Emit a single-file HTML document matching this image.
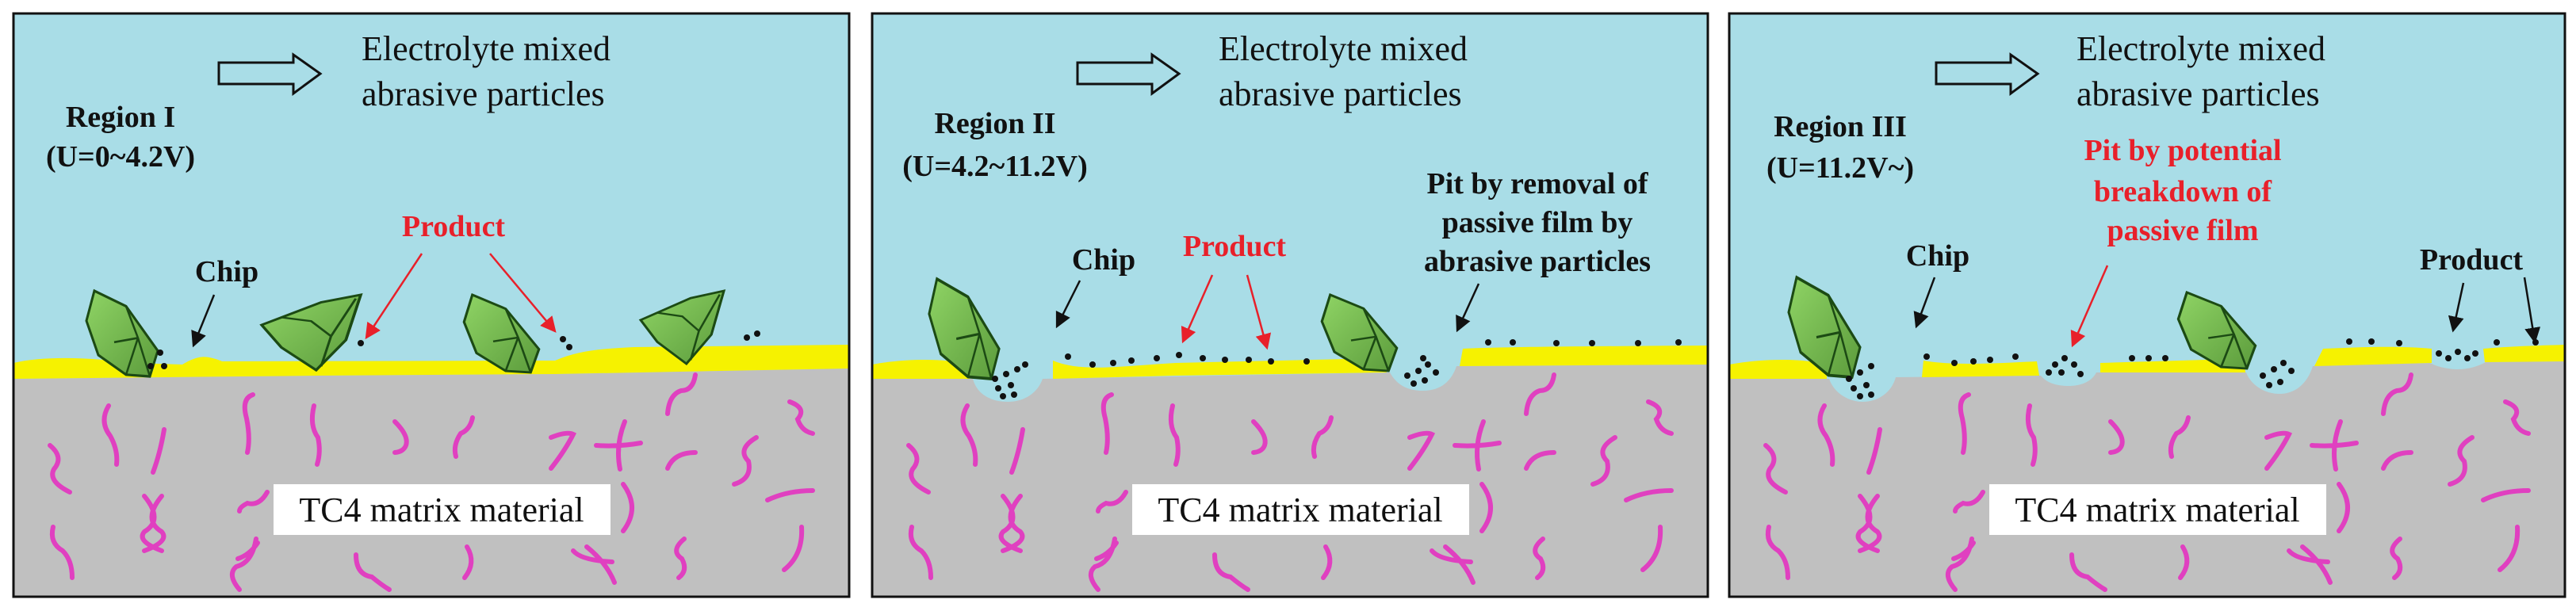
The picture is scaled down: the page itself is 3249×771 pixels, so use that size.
<!DOCTYPE html>
<html><head><meta charset="utf-8"><style>
html,body{margin:0;padding:0;background:#fff;}
svg{display:block;}
</style></head><body>
<svg width="3249" height="771" viewBox="0 0 3249 771" xmlns="http://www.w3.org/2000/svg" font-family="'Liberation Serif', 'DejaVu Serif', serif">
<defs>
<linearGradient id="gg" x1="0" y1="0" x2="1" y2="1"><stop offset="0" stop-color="#8fd465"/><stop offset="1" stop-color="#5c9c3c"/></linearGradient>
<marker id="ab" markerWidth="8" markerHeight="8" refX="7" refY="4" orient="auto" markerUnits="strokeWidth"><path d="M0,0 L8,4 L0,8 Z" fill="#111"/></marker>
<marker id="ar" markerWidth="8" markerHeight="8" refX="7" refY="4" orient="auto" markerUnits="strokeWidth"><path d="M0,0 L8,4 L0,8 Z" fill="#e8202a"/></marker>
<g id="chip"><path d="M15,0 L55,18 L95,70 L85,100 L55,98 L20,75 L5,35 Z" fill="url(#gg)" stroke="#1c4a14" stroke-width="3"/><path d="M55,18 L70,55 L40,60 M70,55 L85,100 M70,55 L55,98" fill="none" stroke="#1c4a14" stroke-width="2.5"/></g>
<g id="chip2"><path d="M0,40 L60,10 L100,0 L85,60 L55,100 L20,70 Z" fill="url(#gg)" stroke="#1c4a14" stroke-width="3"/><path d="M20,30 L50,35 L70,55 L95,5 M70,55 L60,95" fill="none" stroke="#1c4a14" stroke-width="2.5"/></g>
<g id="sq" fill="none" stroke="#e040c0" stroke-width="6" stroke-linecap="round">
<path d="M63,562 q18,15 5,30 q-8,15 20,29"/>
<path d="M137,512 q-12,20 2,38 q10,18 8,36"/>
<path d="M207,542 q-5,30 -14,54"/>
<path d="M182,626 q25,30 0,45 q-10,12 22,24 M204,626 q-25,30 0,45 q10,12 -22,24"/>
<path d="M67,665 q-5,20 12,30 q12,12 12,34"/>
<path d="M319,498 q-15,5 -8,30 q5,25 1,43"/>
<path d="M396,512 q-6,25 5,40 q4,18 -1,34"/>
<path d="M498,532 q18,18 14,30 q-3,8 -14,9"/>
<path d="M596,527 q-3,15 -15,20 q-10,15 -6,29"/>
<path d="M695,552 q20,-8 28,-4 q-10,20 -28,43"/>
<path d="M752,562 q28,2 56,-3 M788,532 q-12,30 -6,60"/>
<path d="M877,473 q-3,20 -18,20 q-15,5 -17,29"/>
<path d="M842,591 q8,-20 35,-20"/>
<path d="M996,507 q22,8 10,22 q5,15 19,18"/>
<path d="M954,552 q-25,15 -10,30 q5,22 -18,29"/>
<path d="M968,631 q25,-12 57,-12"/>
<path d="M786,611 q22,30 0,59"/>
<path d="M1011,665 q2,35 -22,54"/>
<path d="M863,680 q-18,15 -3,25 q8,15 -4,24"/>
<path d="M723,695 q10,12 49,14 M740,690 q25,20 35,45"/>
<path d="M589,690 q12,20 -3,39"/>
<path d="M449,700 q0,25 20,28 q12,10 22,16"/>
<path d="M323,680 q-5,30 -25,35 q-12,10 4,29 M300,705 q15,-5 25,-20"/>
<path d="M337,621 q-10,18 -25,14 q-10,5 -10,10"/>
</g>
</defs>

<!-- ========== PANEL 1 ========== -->
<g>
<rect x="17" y="17" width="1054" height="736" fill="#a9dde7"/>
<path d="M17,478 L400,474 L700,472 L1071,465 L1071,753 L17,753 Z" fill="#c0c0c0"/>
<path d="M17,478 L17,458 C60,448 120,452 170,458 L230,460 C250,448 260,448 280,456 L700,455 C730,442 760,440 800,438 L1071,435 L1071,465 L700,472 L400,474 Z" fill="#f6f200"/>
<use href="#sq"/>
<rect x="345" y="611" width="425" height="64" fill="#fff"/>
<text font-size="44" fill="#111" x="557" y="658" text-anchor="middle">TC4 matrix material</text>
<use href="#chip" transform="translate(104,367) scale(1.0,1.08)"/>
<use href="#chip2" transform="translate(330,372) scale(1.25,0.95)"/>
<use href="#chip" transform="translate(580,372) scale(1.05,0.98)"/>
<use href="#chip2" transform="translate(808,367) scale(1.05,0.92)"/>
<g fill="#111"><circle cx="202" cy="445" r="4"/><circle cx="190" cy="462" r="4"/><circle cx="207" cy="462" r="4"/><circle cx="455" cy="433" r="4"/><circle cx="710" cy="428" r="4"/><circle cx="718" cy="438" r="4"/><circle cx="942" cy="426" r="4"/><circle cx="955" cy="421" r="4"/></g>
<path d="M276,79 L370,79 L370,69 L404,93 L370,118 L370,106 L276,106 Z" fill="none" stroke="#111" stroke-width="3"/>
<text font-size="44" fill="#111" x="456" y="76">Electrolyte mixed</text>
<text font-size="44" fill="#111" x="456" y="133">abrasive particles</text>
<text font-size="38" font-weight="bold" fill="#111" x="152" y="160" text-anchor="middle">Region I</text>
<text font-size="38" font-weight="bold" fill="#111" x="152" y="210" text-anchor="middle">(U=0~4.2V)</text>
<text font-size="38" font-weight="bold" fill="#111" x="286" y="355" text-anchor="middle">Chip</text>
<line x1="270" y1="372" x2="244" y2="436" stroke="#111" stroke-width="2.5" marker-end="url(#ab)"/>
<text font-size="38" font-weight="bold" fill="#e8202a" x="572" y="298" text-anchor="middle">Product</text>
<line x1="532" y1="320" x2="462" y2="426" stroke="#e8202a" stroke-width="2.5" marker-end="url(#ar)"/>
<line x1="618" y1="320" x2="700" y2="418" stroke="#e8202a" stroke-width="2.5" marker-end="url(#ar)"/>
<rect x="17" y="17" width="1054" height="736" fill="none" stroke="#111" stroke-width="3"/>
</g>

<!-- ========== PANEL 2 ========== -->
<g transform="translate(1083,0)">
<rect x="17" y="17" width="1054" height="736" fill="#a9dde7"/>
<path d="M17,478 L144,478 C150,500 170,507 188,507 C210,507 226,495 232,478 L670,470 C680,488 695,493 712,493 C735,493 748,480 754,462 L1071,460 L1071,753 L17,753 Z" fill="#c0c0c0"/>
<path d="M17,478 L17,460 C60,452 110,452 140,460 L140,478 Z" fill="#f6f200"/>
<path d="M245,478 L245,455 C280,470 330,462 400,458 L660,452 L666,470 L400,474 Z" fill="#f6f200"/>
<path d="M758,462 L762,440 C800,438 900,437 1071,436 L1071,460 Z" fill="#f6f200"/>
<use href="#sq"/>
<rect x="345" y="611" width="425" height="64" fill="#fff"/>
<text font-size="44" fill="#111" x="557" y="658" text-anchor="middle">TC4 matrix material</text>
<use href="#chip" transform="translate(84,352) scale(0.98,1.26)"/>
<use href="#chip" transform="translate(579,372) scale(1.05,0.96)"/>
<g fill="#111">
<circle cx="264" cy="450" r="4"/><circle cx="295" cy="460" r="4"/><circle cx="321" cy="458" r="4"/><circle cx="344" cy="455" r="4"/><circle cx="376" cy="452" r="4"/><circle cx="404" cy="448" r="4"/><circle cx="434" cy="452" r="4"/><circle cx="462" cy="454" r="4"/><circle cx="492" cy="454" r="4"/><circle cx="520" cy="456" r="4"/><circle cx="565" cy="456" r="4"/>
<circle cx="794" cy="432" r="4"/><circle cx="825" cy="432" r="4"/><circle cx="880" cy="433" r="4"/><circle cx="925" cy="433" r="4"/><circle cx="983" cy="433" r="4"/><circle cx="1034" cy="432" r="4"/>
<circle cx="172" cy="478" r="4"/><circle cx="186" cy="472" r="4"/><circle cx="200" cy="466" r="4"/><circle cx="176" cy="490" r="4"/><circle cx="192" cy="486" r="4"/><circle cx="182" cy="500" r="4"/><circle cx="196" cy="498" r="4"/><circle cx="210" cy="460" r="4"/>
<circle cx="692" cy="474" r="4"/><circle cx="706" cy="468" r="4"/><circle cx="718" cy="460" r="4"/><circle cx="700" cy="484" r="4"/><circle cx="714" cy="480" r="4"/><circle cx="728" cy="470" r="4"/><circle cx="712" cy="452" r="4"/>
</g>
<path d="M276,79 L370,79 L370,69 L404,93 L370,118 L370,106 L276,106 Z" fill="none" stroke="#111" stroke-width="3"/>
<text font-size="44" fill="#111" x="454" y="76">Electrolyte mixed</text>
<text font-size="44" fill="#111" x="454" y="133">abrasive particles</text>
<text font-size="38" font-weight="bold" fill="#111" x="172" y="168" text-anchor="middle">Region II</text>
<text font-size="38" font-weight="bold" fill="#111" x="172" y="222" text-anchor="middle">(U=4.2~11.2V)</text>
<text font-size="38" font-weight="bold" fill="#111" x="309" y="340" text-anchor="middle">Chip</text>
<line x1="279" y1="354" x2="250" y2="412" stroke="#111" stroke-width="2.5" marker-end="url(#ab)"/>
<text font-size="38" font-weight="bold" fill="#e8202a" x="474" y="323" text-anchor="middle">Product</text>
<line x1="446" y1="347" x2="409" y2="431" stroke="#e8202a" stroke-width="2.5" marker-end="url(#ar)"/>
<line x1="490" y1="347" x2="515" y2="439" stroke="#e8202a" stroke-width="2.5" marker-end="url(#ar)"/>
<text font-size="38" font-weight="bold" fill="#111" x="856" y="244" text-anchor="middle">Pit by removal of</text>
<text font-size="38" font-weight="bold" fill="#111" x="856" y="293" text-anchor="middle">passive film by</text>
<text font-size="38" font-weight="bold" fill="#111" x="856" y="342" text-anchor="middle">abrasive particles</text>
<line x1="782" y1="358" x2="755" y2="417" stroke="#111" stroke-width="2.5" marker-end="url(#ab)"/>
<rect x="17" y="17" width="1054" height="736" fill="none" stroke="#111" stroke-width="3"/>
</g>

<!-- ========== PANEL 3 ========== -->
<g transform="translate(2164,0)">
<rect x="17" y="17" width="1054" height="736" fill="#a9dde7"/>
<path d="M17,478 L143,478 C150,498 170,507 185,507 C205,507 222,495 227,476 L410,474 C418,484 432,487 445,487 C460,487 474,482 480,470 L669,470 C676,488 695,497 711,497 C730,497 746,485 753,462 L901,458 C910,463 925,466 936,466 C950,466 962,462 971,457 L1071,456 L1071,753 L17,753 Z" fill="#c0c0c0"/>
<path d="M17,478 L17,460 C60,452 110,452 140,460 L140,478 Z" fill="#f6f200"/>
<path d="M260,476 L262,455 C300,462 360,458 405,456 L408,474 Z" fill="#f6f200"/>
<path d="M485,470 L485,458 C540,456 600,455 666,452 L668,470 Z" fill="#f6f200"/>
<path d="M755,462 L766,440 C810,438 860,436 903,440 L903,458 Z" fill="#f6f200"/>
<path d="M968,440 C1000,437 1040,436 1071,435 L1071,456 L970,457 Z" fill="#f6f200"/>
<use href="#sq"/>
<rect x="345" y="611" width="425" height="64" fill="#fff"/>
<text font-size="44" fill="#111" x="557" y="658" text-anchor="middle">TC4 matrix material</text>
<use href="#chip" transform="translate(87,350) scale(1.0,1.26)"/>
<use href="#chip" transform="translate(578,369) scale(1.08,0.96)"/>
<g fill="#111">
<circle cx="266" cy="450" r="4"/><circle cx="301" cy="458" r="4"/><circle cx="325" cy="456" r="4"/><circle cx="346" cy="454" r="4"/><circle cx="378" cy="450" r="4"/>
<circle cx="525" cy="452" r="4"/><circle cx="546" cy="452" r="4"/><circle cx="567" cy="452" r="4"/>
<circle cx="799" cy="431" r="4"/><circle cx="827" cy="431" r="4"/><circle cx="862" cy="433" r="4"/><circle cx="985" cy="432" r="4"/><circle cx="1034" cy="432" r="4"/>
<circle cx="168" cy="478" r="4"/><circle cx="182" cy="470" r="4"/><circle cx="196" cy="462" r="4"/><circle cx="174" cy="490" r="4"/><circle cx="190" cy="486" r="4"/><circle cx="182" cy="500" r="4"/><circle cx="196" cy="498" r="4"/>
<circle cx="428" cy="460" r="4"/><circle cx="440" cy="452" r="4"/><circle cx="452" cy="460" r="4"/><circle cx="436" cy="470" r="4"/><circle cx="460" cy="472" r="4"/><circle cx="420" cy="470" r="4"/>
<circle cx="690" cy="474" r="4"/><circle cx="704" cy="466" r="4"/><circle cx="716" cy="458" r="4"/><circle cx="698" cy="486" r="4"/><circle cx="712" cy="482" r="4"/><circle cx="726" cy="468" r="4"/>
<circle cx="912" cy="446" r="4"/><circle cx="924" cy="452" r="4"/><circle cx="936" cy="444" r="4"/><circle cx="948" cy="452" r="4"/><circle cx="958" cy="446" r="4"/>
</g>
<path d="M278,79 L372,79 L372,69 L406,93 L372,118 L372,106 L278,106 Z" fill="none" stroke="#111" stroke-width="3"/>
<text font-size="44" fill="#111" x="455" y="76">Electrolyte mixed</text>
<text font-size="44" fill="#111" x="455" y="133">abrasive particles</text>
<text font-size="38" font-weight="bold" fill="#111" x="157" y="172" text-anchor="middle">Region III</text>
<text font-size="38" font-weight="bold" fill="#111" x="157" y="224" text-anchor="middle">(U=11.2V~)</text>
<text font-size="38" font-weight="bold" fill="#111" x="280" y="335" text-anchor="middle">Chip</text>
<line x1="276" y1="350" x2="253" y2="412" stroke="#111" stroke-width="2.5" marker-end="url(#ab)"/>
<text font-size="38" font-weight="bold" fill="#e8202a" x="589" y="202" text-anchor="middle">Pit by potential</text>
<text font-size="38" font-weight="bold" fill="#e8202a" x="589" y="254" text-anchor="middle">breakdown of</text>
<text font-size="38" font-weight="bold" fill="#e8202a" x="589" y="303" text-anchor="middle">passive film</text>
<line x1="494" y1="335" x2="450" y2="436" stroke="#e8202a" stroke-width="2.5" marker-end="url(#ar)"/>
<text font-size="38" font-weight="bold" fill="#111" x="953" y="340" text-anchor="middle">Product</text>
<line x1="943" y1="357" x2="930" y2="417" stroke="#111" stroke-width="2.5" marker-end="url(#ab)"/>
<line x1="1020" y1="350" x2="1033" y2="431" stroke="#111" stroke-width="2.5" marker-end="url(#ab)"/>
<rect x="17" y="17" width="1054" height="736" fill="none" stroke="#111" stroke-width="3"/>
</g>
</svg>
</body></html>
